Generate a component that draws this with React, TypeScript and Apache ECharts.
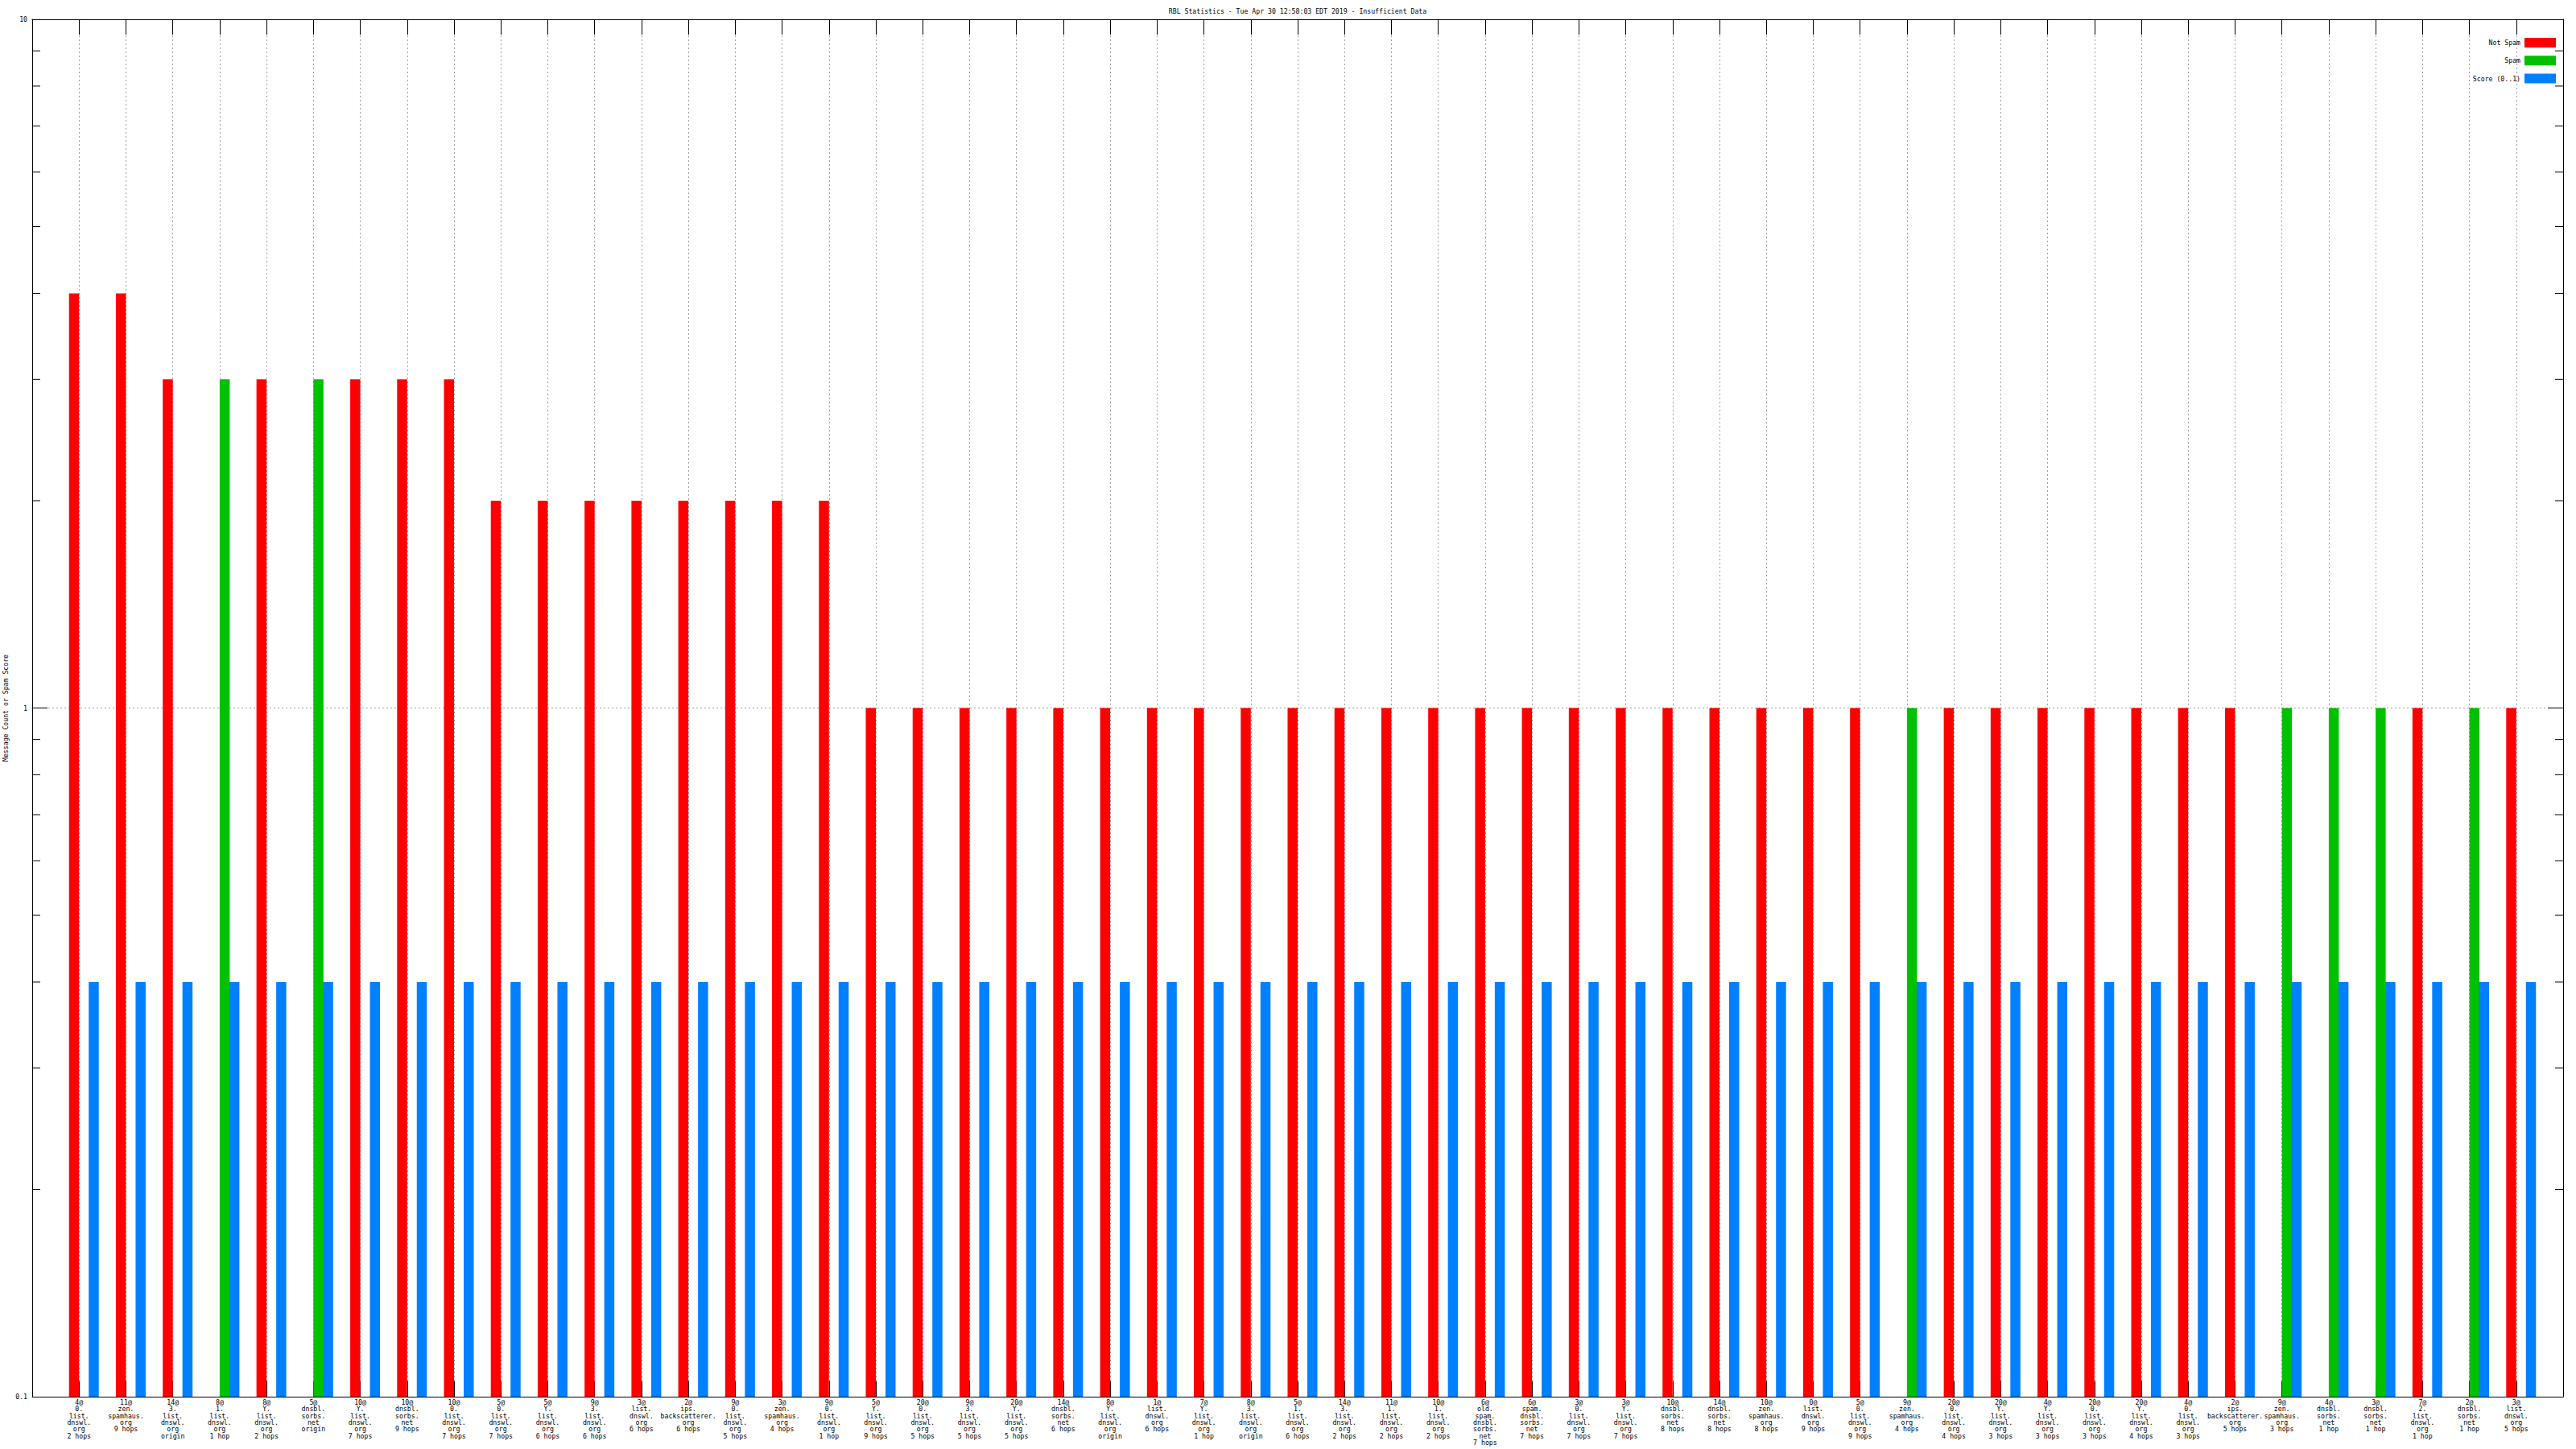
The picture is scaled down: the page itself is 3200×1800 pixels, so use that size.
import React, { useEffect, useRef } from "react";
import * as echarts from "echarts";

const TITLE = "RBL Statistics - Tue Apr 30 12:58:03 EDT 2019 - Insufficient Data";
const Y_NAME = "Message Count or Spam Score";

const categories = [
  "4@0.list.dnswl.org 2 hops",
  "11@zen.spamhaus.org 9 hops",
  "14@3.list.dnswl.org origin",
  "8@1.list.dnswl.org 1 hop",
  "8@Y.list.dnswl.org 2 hops",
  "5@dnsbl.sorbs.net origin",
  "10@Y.list.dnswl.org 7 hops",
  "10@dnsbl.sorbs.net 9 hops",
  "10@0.list.dnswl.org 7 hops",
  "5@0.list.dnswl.org 7 hops",
  "5@Y.list.dnswl.org 6 hops",
  "9@3.list.dnswl.org 6 hops",
  "3@list.dnswl.org 6 hops",
  "2@ips.backscatterer.org 6 hops",
  "9@0.list.dnswl.org 5 hops",
  "3@zen.spamhaus.org 4 hops",
  "9@0.list.dnswl.org 1 hop",
  "5@Y.list.dnswl.org 9 hops",
  "20@0.list.dnswl.org 5 hops",
  "9@3.list.dnswl.org 5 hops",
  "20@Y.list.dnswl.org 5 hops",
  "14@dnsbl.sorbs.net 6 hops",
  "8@Y.list.dnswl.org origin",
  "1@list.dnswl.org 6 hops",
  "7@Y.list.dnswl.org 1 hop",
  "8@3.list.dnswl.org origin",
  "5@1.list.dnswl.org 6 hops",
  "14@3.list.dnswl.org 2 hops",
  "11@1.list.dnswl.org 2 hops",
  "10@1.list.dnswl.org 2 hops",
  "6@old.spam.dnsbl.sorbs.net 7 hops",
  "6@spam.dnsbl.sorbs.net 7 hops",
  "3@0.list.dnswl.org 7 hops",
  "3@Y.list.dnswl.org 7 hops",
  "10@dnsbl.sorbs.net 8 hops",
  "14@dnsbl.sorbs.net 8 hops",
  "10@zen.spamhaus.org 8 hops",
  "0@list.dnswl.org 9 hops",
  "5@0.list.dnswl.org 9 hops",
  "9@zen.spamhaus.org 4 hops",
  "20@0.list.dnswl.org 4 hops",
  "20@Y.list.dnswl.org 3 hops",
  "4@Y.list.dnswl.org 3 hops",
  "20@0.list.dnswl.org 3 hops",
  "20@Y.list.dnswl.org 4 hops",
  "4@0.list.dnswl.org 3 hops",
  "2@ips.backscatterer.org 5 hops",
  "9@zen.spamhaus.org 3 hops",
  "4@dnsbl.sorbs.net 1 hop",
  "3@dnsbl.sorbs.net 1 hop",
  "7@2.list.dnswl.org 1 hop",
  "2@dnsbl.sorbs.net 1 hop",
  "3@list.dnswl.org 5 hops",
];

const notSpam = [
  4, 4, 3, null, 3, null, 3, 3, 3, 2,
  2, 2, 2, 2, 2, 2, 2, 1, 1, 1,
  1, 1, 1, 1, 1, 1, 1, 1, 1, 1,
  1, 1, 1, 1, 1, 1, 1, 1, 1, null,
  1, 1, 1, 1, 1, 1, 1, null, null, null,
  1, null, 1,
];

const spam = [
  null, null, null, 3, null, 3, null, null, null, null,
  null, null, null, null, null, null, null, null, null, null,
  null, null, null, null, null, null, null, null, null, null,
  null, null, null, null, null, null, null, null, null, 1,
  null, null, null, null, null, null, null, 1, 1, 1,
  null, 1, null,
];

const score = [
  0.4, 0.4, 0.4, 0.4, 0.4, 0.4, 0.4, 0.4, 0.4, 0.4,
  0.4, 0.4, 0.4, 0.4, 0.4, 0.4, 0.4, 0.4, 0.4, 0.4,
  0.4, 0.4, 0.4, 0.4, 0.4, 0.4, 0.4, 0.4, 0.4, 0.4,
  0.4, 0.4, 0.4, 0.4, 0.4, 0.4, 0.4, 0.4, 0.4, 0.4,
  0.4, 0.4, 0.4, 0.4, 0.4, 0.4, 0.4, 0.4, 0.4, 0.4,
  0.4, 0.4, 0.4,
];

const seriesNames = ["Not Spam", "Spam", "Score (0..1)"];
const seriesColors = ["#ff0000", "#00c000", "#0080ff"];
const minorTickValues = [0.2, 0.3, 0.4, 0.5, 0.6, 0.7, 0.8, 0.9, 2, 3, 4, 5, 6, 7, 8, 9];
const Y_MIN = 0.1;
const Y_MAX = 10;

const FONT = "DejaVu Sans Mono";
const FS = 8.2;
const GRID = { left: 40, right: 16, top: 24, bottom: 65 };
const W = 3200;
const H = 1800;
const BAR_W = 12.5;
// slot offset of each series' bar relative to the category tick (in bar widths)
const SLOT = [-1, 0, 1];

const paddedCats = [" ", ...categories, "  "];

const fmtCat = (s: string) => {
  if (!s.trim()) return "";
  return s.replace("@", "@\n").replace(/\./g, ".\n").replace(" ", "\n");
};

const fmtY = (v: number) => (v < 0.5 ? "0.1" : String(Math.round(v)));

export default function App() {
  const ref = useRef<HTMLDivElement>(null);
  useEffect(() => {
    document.body.style.margin = "0";
    if (!ref.current) return;
    const chart = echarts.init(ref.current, undefined, { renderer: "svg" });
    const dotted = { color: "#a0a0a0", width: 1, type: [2, 3] as any };
    const black = { color: "#000", width: 1 };
    const dataSets = [notSpam, spam, score];
    const option: any = {
      animation: false,
      backgroundColor: "#fff",
      grid: { ...GRID, containLabel: false, outerBoundsMode: "none" },
      xAxis: [
        {
          type: "category",
          data: paddedCats,
          boundaryGap: false,
          position: "bottom",
          axisLine: { show: true, onZero: false, lineStyle: black },
          axisTick: { show: true, inside: true, length: 19, interval: 0, lineStyle: black },
          axisLabel: {
            interval: 0,
            margin: 3,
            fontFamily: FONT,
            fontSize: FS,
            lineHeight: 8.3,
            color: "#000",
            align: "center",
            formatter: fmtCat,
          },
          splitLine: { show: true, interval: 0, lineStyle: dotted },
        },
        {
          type: "category",
          data: paddedCats,
          boundaryGap: false,
          position: "top",
          axisLine: { show: true, onZero: false, lineStyle: black },
          axisTick: { show: true, inside: true, length: 19, interval: 0, lineStyle: black },
          axisLabel: { show: false },
          splitLine: { show: false },
        },
      ],
      yAxis: [
        {
          type: "log",
          logBase: 10,
          min: Y_MIN,
          max: Y_MAX,
          position: "left",
          axisLine: { show: true, lineStyle: black },
          axisTick: { show: true, inside: true, length: 19, lineStyle: black },
          axisLabel: { margin: 6, fontFamily: FONT, fontSize: FS, color: "#000", formatter: fmtY },
          splitLine: { show: true, lineStyle: dotted },
        },
        {
          type: "log",
          logBase: 10,
          min: Y_MIN,
          max: Y_MAX,
          position: "right",
          axisLine: { show: true, lineStyle: black },
          axisTick: { show: true, inside: true, length: 19, lineStyle: black },
          axisLabel: { show: false },
          splitLine: { show: false },
        },
      ],
      series: seriesNames.map((name, i) => ({
        type: "custom",
        name,
        xAxisIndex: 0,
        yAxisIndex: 0,
        z: 5,
        encode: { x: 0, y: 1 },
        data: dataSets[i]
          .map((v, j) => [j + 1, v])
          .filter((d) => d[1] !== null),
        renderItem: (params: any, api: any) => {
          const xi = api.value(0);
          const v = api.value(1);
          const top = api.coord([xi, v]);
          const base = api.coord([xi, Y_MIN]);
          const cx = top[0];
          const x0 = cx + (SLOT[i] === -1 ? -BAR_W : SLOT[i] === 0 ? 0 : BAR_W - 0.5);
          return {
            type: "rect",
            shape: { x: x0, y: top[1], width: BAR_W, height: base[1] - top[1] },
            style: { fill: seriesColors[i] },
          };
        },
      })),
    };
    chart.setOption(option);

    const left = GRID.left;
    const right = W - GRID.right;
    const graphics: any[] = [];
    minorTickValues.forEach((v, i) => {
      const y = chart.convertToPixel({ yAxisIndex: 0 }, v) as number;
      graphics.push({
        type: "line",
        id: "ml" + i,
        shape: { x1: left, y1: y, x2: left + 10, y2: y },
        style: { stroke: "#000", lineWidth: 1 },
        z: 10,
      });
      graphics.push({
        type: "line",
        id: "mr" + i,
        shape: { x1: right, y1: y, x2: right - 10, y2: y },
        style: { stroke: "#000", lineWidth: 1 },
        z: 10,
      });
    });
    graphics.push({
      type: "text",
      id: "title",
      x: (left + right) / 2,
      y: 14,
      style: {
        text: TITLE,
        fontFamily: FONT,
        fontSize: FS,
        fill: "#000",
        align: "center",
        verticalAlign: "middle",
      },
    });
    graphics.push({
      type: "text",
      id: "yname",
      x: 7,
      y: (GRID.top + (H - GRID.bottom)) / 2,
      rotation: Math.PI / 2,
      style: {
        text: Y_NAME,
        fontFamily: FONT,
        fontSize: FS,
        fill: "#000",
        align: "center",
        verticalAlign: "middle",
      },
    });
    seriesNames.forEach((name, i) => {
      const cy = 53 + i * 22.3;
      graphics.push({
        type: "text",
        id: "lt" + i,
        x: 3131,
        y: cy,
        style: {
          text: name,
          fontFamily: FONT,
          fontSize: FS,
          fill: "#000",
          align: "right",
          verticalAlign: "middle",
        },
        z: 20,
      });
      graphics.push({
        type: "rect",
        id: "lr" + i,
        shape: { x: 3136, y: cy - 6, width: 39, height: 12 },
        style: { fill: seriesColors[i] },
        z: 20,
      });
    });
    chart.setOption({ graphic: graphics });

    return () => chart.dispose();
  }, []);
  return <div ref={ref} style={{ width: W, height: H }} />;
}
